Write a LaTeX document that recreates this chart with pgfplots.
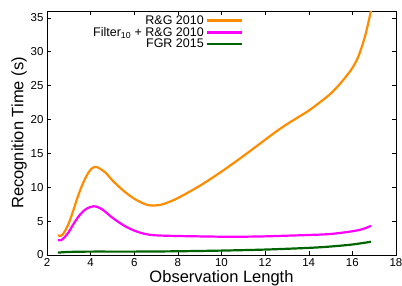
\documentclass[border=0pt]{standalone}
\usepackage{pgfplots}
\pgfplotsset{compat=1.18}
\usepackage{fontspec}
\setmainfont{Liberation Sans}
\definecolor{cOrange}{RGB}{255,140,0}
\definecolor{cMag}{RGB}{255,0,255}
\definecolor{cGreen}{RGB}{0,100,0}
\begin{document}
\begin{tikzpicture}
\begin{axis}[
  scale only axis,
  width=349pt, height=244pt,
  xmin=2, xmax=18, ymin=0, ymax=36,
  xtick={2,4,...,18}, ytick={0,5,...,35},
  tick align=inside,
  major tick length=4pt,
  tick style={black, line width=0.5pt},
  axis line style={line width=0.8pt},
  /pgf/number format/assume math mode=true,
  tick label style={font=\fontsize{11.5}{12}\selectfont},
  xlabel={Observation Length},
  ylabel={Recognition Time (s)},
  label style={font=\fontsize{16.5}{17}\selectfont},
  xlabel style={yshift=2.5pt},
  ylabel style={yshift=-3pt},
  legend cell align=right,
  legend plot pos=right,
  legend style={draw=none, fill=none, at={(rel axis cs:0.565,0.995)}, anchor=north east,
    font=\fontsize{12.5}{13}\selectfont, row sep=-2.5pt, inner sep=1pt},
  legend image code/.code={\draw[#1] (0pt,0pt) -- (35pt,0pt);},
  every axis plot/.append style={line width=2.2pt, smooth, no markers},
]
\addplot[cOrange] coordinates {
(2.5,2.9)(2.65,2.85)(2.8,3.4)(3.0,4.7)(3.2,6.5)(3.4,8.5)(3.6,10.2)(3.8,11.6)
(4.0,12.6)(4.2,13.0)(4.4,12.8)(4.7,12.1)
(5.0,11.0)(5.5,9.5)(6.0,8.3)(6.5,7.5)(6.8,7.3)(7.2,7.4)(7.5,7.7)(8.0,8.4)
(9.0,10.2)(10.0,12.3)(11.0,14.6)(12.0,17.0)(12.5,18.2)(13.0,19.3)(13.5,20.3)(14.0,21.3)(14.5,22.5)(15.0,23.8)
(15.5,25.5)(16.0,27.6)(16.3,29.5)(16.6,32.5)(16.85,36.0)};
\addlegendentry{R\&G 2010}
\addplot[cMag] coordinates {
(2.5,2.2)(2.65,2.2)(2.8,2.6)(3.0,3.4)(3.2,4.5)(3.5,5.9)(3.8,6.8)(4.15,7.2)(4.5,6.8)(5.0,5.5)
(5.5,4.4)(6.0,3.6)(6.5,3.1)(7.0,2.9)(8.0,2.8)(10.0,2.7)(11.0,2.7)(12.0,2.75)
(13.0,2.85)(14.0,2.95)(15.0,3.1)(16.0,3.5)(16.5,3.85)(16.85,4.3)};
\addlegendentry{Filter\textsubscript{10} + R\&G 2010}
\addplot[cGreen] coordinates {
(2.5,0.35)(3.0,0.45)(4.0,0.5)(6.0,0.5)(8.0,0.55)(10.0,0.65)(12.0,0.8)
(14.0,1.05)(15.0,1.25)(16.0,1.55)(16.85,1.95)};
\addlegendentry{FGR 2015}
\end{axis}
\pgfresetboundingbox
\path[use as bounding box] ([shift={(-47pt,-31pt)}]current axis.south west) rectangle ([shift={(6pt,11pt)}]current axis.north east);
\end{tikzpicture}
\end{document}
